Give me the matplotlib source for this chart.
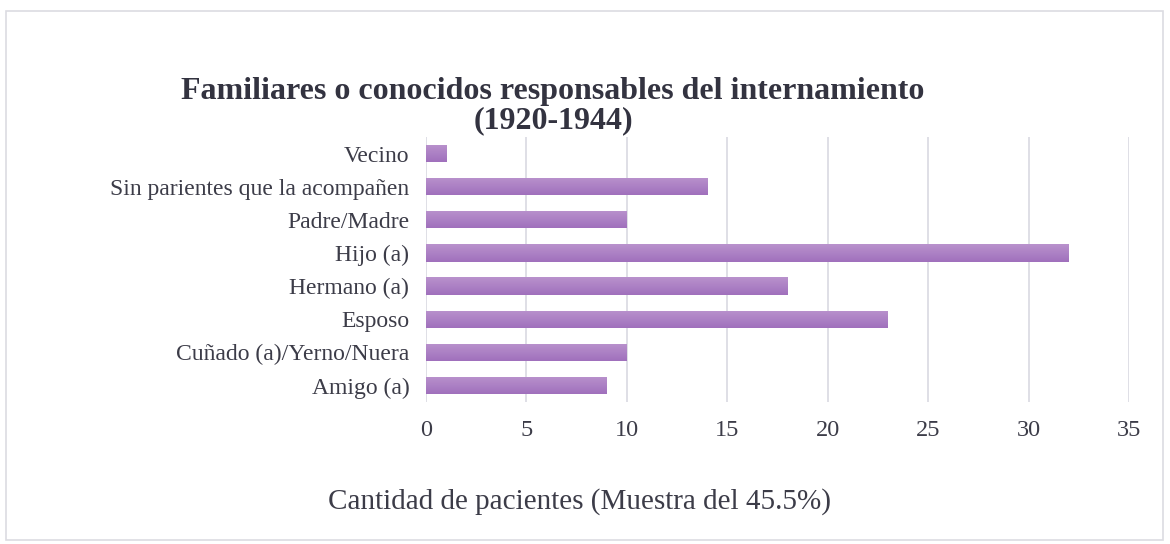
import numpy as np
import matplotlib.pyplot as plt
from matplotlib.patches import Rectangle
from matplotlib.colors import LinearSegmentedColormap

# datos (de abajo hacia arriba)
categorias = ["Amigo (a)", "Cuñado (a)/Yerno/Nuera", "Esposo", "Hermano (a)",
              "Hijo (a)", "Padre/Madre", "Sin parientes que la acompañen", "Vecino"]
valores = [9, 10, 23, 18, 32, 10, 14, 1]
ticks_x = [0, 5, 10, 15, 20, 25, 30, 35]

plt.rcParams['font.family'] = ['Liberation Serif', 'DejaVu Serif']

fig = plt.figure(figsize=(11.7, 5.44), dpi=100)
fig.patches.append(Rectangle((6 / 1170, 4 / 544), 1157 / 1170, 529 / 544,
                             transform=fig.transFigure, fill=False,
                             edgecolor='#dcdce2', linewidth=1.2))

ax = fig.add_axes([426 / 1170, 1 - 402 / 544, 703 / 1170, 265 / 544])
y = np.arange(len(categorias))
bars = ax.barh(y, valores, height=0.52, color='#ac80c6', zorder=2)

# degradado vertical suave en cada barra
grad = np.linspace(0, 1, 64).reshape(-1, 1)
cmap = LinearSegmentedColormap.from_list('morado', ['#a070bc', '#b992cd'])
for b in bars:
    x0, y0 = b.get_x(), b.get_y()
    w, h = b.get_width(), b.get_height()
    im = ax.imshow(grad, cmap=cmap, aspect='auto', origin='lower',
                   extent=(x0, x0 + w, y0, y0 + h), zorder=3)
    im.set_clip_path(b)

ax.set_xlim(0, 35)
ax.set_ylim(-0.5, len(categorias) - 0.5)
ax.set_xticks(ticks_x)
ax.set_yticks(y)
ax.set_yticklabels(categorias)
ax.grid(axis='x', color='#dcdce4', linewidth=1.3, zorder=0)
for s in ax.spines.values():
    s.set_visible(False)
ax.tick_params(length=0, labelcolor='#3c3c48')
ax.tick_params(axis='x', labelsize=17.5, pad=13)
ax.tick_params(axis='y', labelsize=17, pad=12)

fig.text(553 / 1170, 1 - 91 / 544, "Familiares o conocidos responsables del internamiento",
         ha='center', va='center', fontsize=23, fontweight='bold', color='#333340')
fig.text(553 / 1170, 1 - 121 / 544, "(1920-1944)",
         ha='center', va='center', fontsize=23, fontweight='bold', color='#333340')
fig.text(579 / 1170, 1 - 502 / 544, "Cantidad de pacientes (Muestra del 45.5%)",
         ha='center', va='center', fontsize=21, color='#3c3c48')

fig.savefig('out.png', dpi=100)
